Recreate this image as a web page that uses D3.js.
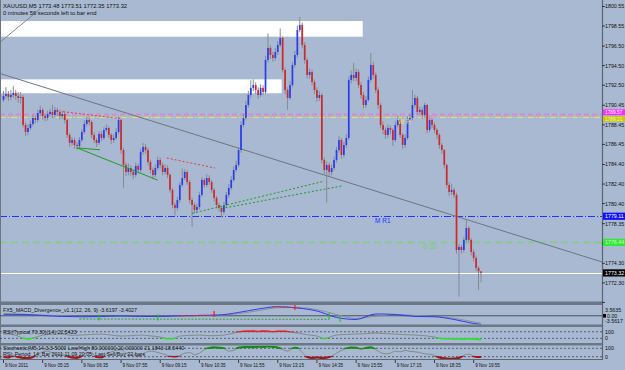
<!DOCTYPE html>
<html><head><meta charset="utf-8">
<script src="https://cdn.jsdelivr.net/npm/d3@7"></script>
<style>body{margin:0;background:#a9b9d1;}svg{display:block;}text{font-family:"Liberation Sans",Arial,sans-serif;}</style>
</head><body><svg id="c" width="625" height="370"></svg>
<script>
// ---------- DATA ----------
const symbolHeader = "XAUUSD,M5  1773.48 1773.51 1772.35 1773.32";
const timerText = "0 minutes 56 seconds left to bar end";
const open = [
1791.00,1791.40,1791.60,1791.30,1791.50,1791.71,1791.40,1791.20,1791.30,1788.44,
1787.72,1788.13,1788.54,1789.15,1788.95,1789.66,1789.97,1789.36,1789.15,1789.56,
1789.77,1789.46,1789.97,1789.77,1789.36,1789.56,1788.95,1787.42,1786.60,1786.90,
1786.39,1786.29,1786.90,1787.72,1788.54,1788.95,1788.74,1787.42,1786.90,1786.60,
1787.52,1787.11,1787.93,1788.13,1787.42,1786.90,1787.11,1787.72,1788.95,1785.88,
1784.35,1783.63,1784.04,1783.63,1783.33,1784.25,1783.84,1785.68,1786.19,1785.88,
1784.66,1783.84,1783.33,1784.04,1784.86,1784.35,1783.63,1784.04,1783.33,1781.80,
1780.26,1779.96,1780.77,1782.31,1783.02,1783.63,1782.61,1780.77,1780.26,1779.75,
1780.06,1781.29,1782.82,1782.31,1783.02,1782.61,1781.80,1780.98,1780.26,1779.96,
1779.55,1780.26,1781.29,1782.00,1782.82,1783.84,1784.35,1785.88,1788.44,1789.15,
1790.48,1791.50,1792.22,1792.52,1792.01,1791.50,1792.22,1791.81,1795.08,1796.31,
1795.59,1795.28,1795.90,1796.61,1797.33,1794.06,1792.01,1791.20,1792.52,1794.57,
1795.59,1798.14,1798.66,1796.61,1795.08,1793.55,1793.85,1792.83,1792.01,1791.20,
1791.50,1784.86,1783.84,1784.35,1783.63,1784.04,1784.86,1785.88,1786.90,1785.37,
1786.39,1787.11,1793.04,1793.55,1793.24,1793.85,1792.52,1791.50,1790.48,1790.99,
1793.04,1794.57,1793.55,1792.01,1790.48,1788.44,1787.93,1787.42,1788.13,1787.93,
1786.90,1788.44,1788.95,1787.42,1786.39,1787.11,1788.95,1789.15,1790.48,1791.20,
1789.77,1789.97,1789.46,1790.48,1787.93,1788.95,1788.44,1787.93,1787.42,1786.39,
1785.88,1784.35,1782.31,1781.59,1781.80,1781.29,1775.66,1775.97,1775.66,1776.69,
1777.91,1776.69,1775.46,1774.85,1773.83,1773.48];
const high = [
1791.9,1792.3,1791.9,1792.0,1792.4,1792.0,1791.8,1791.8,1791.5,1788.7,
1788.5,1788.9,1789.5,1789.4,1790.0,1790.4,1790.2,1789.6,1789.9,1790.1,
1790.5,1790.3,1790.2,1790.0,1789.9,1789.8,1789.1,1787.6,1787.2,1787.1,
1786.7,1787.2,1788.0,1788.9,1789.3,1789.3,1788.9,1787.7,1787.1,1787.8,
1787.8,1788.2,1788.5,1788.3,1787.6,1787.5,1788.1,1789.3,1789.1,1786.1,
1784.6,1784.5,1784.3,1783.9,1784.6,1784.5,1786.0,1786.6,1786.5,1786.1,
1784.9,1784.1,1784.4,1785.2,1785.1,1784.6,1784.4,1784.3,1783.5,1782.0,
1780.5,1781.1,1782.6,1784.0,1783.9,1783.8,1782.8,1781.0,1780.5,1780.4,
1781.6,1783.1,1783.0,1783.4,1783.3,1782.8,1782.0,1781.2,1780.5,1780.2,
1780.6,1781.6,1782.4,1783.2,1784.2,1784.8,1786.2,1788.8,1789.6,1790.9,
1791.9,1793.0,1793.1,1792.8,1792.3,1792.6,1792.5,1795.5,1797.8,1796.6,
1795.9,1796.3,1797.0,1798.3,1797.5,1794.3,1792.3,1792.9,1794.9,1796.0,
1798.6,1799.5,1798.9,1796.9,1795.3,1794.2,1794.1,1793.1,1792.3,1791.9,
1791.7,1785.1,1784.7,1784.6,1784.4,1785.2,1786.2,1787.3,1787.1,1786.7,
1787.5,1793.4,1794.0,1794.8,1794.2,1794.1,1792.8,1791.8,1791.4,1793.4,
1795.8,1794.9,1793.8,1792.3,1790.7,1788.8,1788.2,1788.5,1788.4,1788.1,
1788.8,1789.4,1789.1,1787.6,1787.5,1789.3,1789.6,1792.0,1791.5,1791.4,
1790.3,1790.2,1790.7,1790.6,1789.3,1789.2,1788.7,1788.1,1787.6,1786.6,
1786.0,1784.5,1782.6,1782.4,1782.0,1781.5,1776.3,1776.2,1777.0,1778.7,
1778.1,1776.9,1775.7,1775.1,1774.0,1773.51];
const low = [
1790.8,1791.1,1790.9,1791.0,1791.2,1791.0,1790.7,1790.6,1788.2,1787.3,
1787.4,1787.9,1788.3,1788.6,1788.7,1789.4,1789.0,1788.8,1788.9,1789.3,
1789.1,1789.2,1789.4,1789.0,1789.1,1788.6,1787.1,1786.2,1786.3,1786.0,
1785.9,1786.0,1786.7,1787.5,1788.3,1788.4,1787.1,1786.6,1786.2,1786.4,
1786.8,1786.9,1787.7,1787.1,1786.5,1786.6,1786.9,1787.5,1785.5,1782.0,
1783.2,1783.3,1783.2,1782.9,1783.1,1783.5,1783.6,1785.4,1785.5,1784.3,
1783.5,1782.9,1783.1,1783.8,1784.0,1783.3,1783.4,1783.0,1781.5,1779.9,
1779.2,1779.7,1780.5,1782.1,1782.8,1782.3,1780.4,1778.0,1779.4,1779.5,
1779.8,1781.1,1782.0,1782.1,1782.3,1781.5,1780.6,1779.9,1779.6,1779.0,
1779.3,1780.0,1781.0,1781.8,1782.6,1783.6,1784.1,1785.6,1788.2,1788.9,
1790.2,1791.2,1791.9,1791.6,1791.1,1791.3,1791.5,1791.6,1794.8,1795.2,
1794.9,1795.0,1795.6,1796.4,1793.8,1791.6,1790.0,1791.0,1792.3,1794.3,
1795.3,1797.9,1796.3,1794.7,1793.2,1793.2,1792.5,1791.6,1790.8,1790.9,
1784.5,1783.4,1780.5,1783.2,1783.3,1783.8,1784.6,1785.6,1785.0,1785.1,
1786.1,1786.9,1792.7,1792.9,1792.9,1792.2,1791.1,1790.1,1790.2,1790.8,
1792.8,1793.2,1791.7,1790.1,1788.1,1787.5,1787.0,1787.1,1787.5,1786.3,
1786.7,1788.2,1787.1,1786.0,1786.1,1786.9,1788.7,1788.9,1790.2,1789.5,
1789.5,1789.1,1789.2,1787.6,1787.7,1788.1,1787.6,1787.0,1786.0,1785.5,
1784.0,1782.0,1781.2,1781.3,1781.0,1775.3,1770.9,1775.3,1775.4,1776.4,
1776.4,1775.1,1774.5,1773.5,1771.6,1772.35];
const close = [
1791.40,1791.60,1791.30,1791.50,1791.71,1791.40,1791.20,1791.30,1788.44,1787.72,
1788.13,1788.54,1789.15,1788.95,1789.66,1789.97,1789.36,1789.15,1789.56,1789.77,
1789.46,1789.97,1789.77,1789.36,1789.56,1788.95,1787.42,1786.60,1786.90,1786.39,
1786.29,1786.90,1787.72,1788.54,1788.95,1788.74,1787.42,1786.90,1786.60,1787.52,
1787.11,1787.93,1788.13,1787.42,1786.90,1787.11,1787.72,1788.95,1785.88,1784.35,
1783.63,1784.04,1783.63,1783.33,1784.25,1783.84,1785.68,1786.19,1785.88,1784.66,
1783.84,1783.33,1784.04,1784.86,1784.35,1783.63,1784.04,1783.33,1781.80,1780.26,
1779.96,1780.77,1782.31,1783.02,1783.63,1782.61,1780.77,1780.26,1779.75,1780.06,
1781.29,1782.82,1782.31,1783.02,1782.61,1781.80,1780.98,1780.26,1779.96,1779.55,
1780.26,1781.29,1782.00,1782.82,1783.84,1784.35,1785.88,1788.44,1789.15,1790.48,
1791.50,1792.22,1792.52,1792.01,1791.50,1792.22,1791.81,1795.08,1796.31,1795.59,
1795.28,1795.90,1796.61,1797.33,1794.06,1792.01,1791.20,1792.52,1794.57,1795.59,
1798.14,1798.66,1796.61,1795.08,1793.55,1793.85,1792.83,1792.01,1791.20,1791.50,
1784.86,1783.84,1784.35,1783.63,1784.04,1784.86,1785.88,1786.90,1785.37,1786.39,
1787.11,1793.04,1793.55,1793.24,1793.85,1792.52,1791.50,1790.48,1790.99,1793.04,
1794.57,1793.55,1792.01,1790.48,1788.44,1787.93,1787.42,1788.13,1787.93,1786.90,
1788.44,1788.95,1787.42,1786.39,1787.11,1788.95,1789.15,1790.48,1791.20,1789.77,
1789.97,1789.46,1790.48,1787.93,1788.95,1788.44,1787.93,1787.42,1786.39,1785.88,
1784.35,1782.31,1781.59,1781.80,1781.29,1775.66,1775.97,1775.66,1776.69,1777.91,
1776.69,1775.46,1774.85,1773.83,1773.48,1773.32];

const priceTicks = [1800.55,1798.55,1796.50,1794.50,1792.50,1790.45,1788.45,1786.45,1784.40,1782.40,1780.40,1778.35,1776.35,1774.30,1772.30,1770.30];
const timeTickBars = [0,16,32,48,64,80,96,112,128,144,160,176,192];
const timeLabels = ["9 Nov 2011","9 Nov 05:15","9 Nov 06:35","9 Nov 07:55","9 Nov 09:15","9 Nov 10:35","9 Nov 11:55","9 Nov 13:15","9 Nov 14:35","9 Nov 15:55","9 Nov 17:15","9 Nov 18:35","9 Nov 19:55"];

// horizontal levels: price, label
const levelPrices = [1789.57, 1789.21, 1779.11, 1776.44, 1773.32];
const levelLabels = ["1789.57","1789.21","1779.11","1776.44","1773.32"];
// zones [bar start, bar end, price top, price bottom]
const zones = [[-3, 146.7, 1799.06, 1797.46], [-3, 113.6, 1793.10, 1791.68]];
// trend lines [bar1, price1, bar2, price2]
const trendMain = [0, 1793.59, 195, 1778.31];
const trendTop = [-1.4, 1796.9, 15, 1800.3];
const divGreenSolid = [[30, 1786.1, 63, 1782.8], [30, 1786.1, 39.4, 1785.9]];
const divGreenDotted = [[77, 1779.4, 131, 1782.7], [89, 1779.9, 138, 1782.2]];
const divRedDotted = [[24.3, 1789.8, 47.6, 1789.1], [66.7, 1785.06, 86.4, 1784.04]];

// MACD (bar, value)
const macdBars = [0,8,16,24,32,40,48,56,64,72,80,88,96,104,112,120,128,136,144,152,160,168,176,184,192,195];
const macdMain = [1.0,0.85,0.2,-0.45,-0.65,-0.45,-0.13,-0.45,-0.45,0,0.2,0.52,2.15,4.4,5.9,5.05,3.1,-1.1,-2.4,1.17,0.85,-0.45,-0.65,-2.4,-5.0,-5.65];
const macdSignal = [1.2,1.0,0.5,-0.1,-0.5,-0.55,-0.3,-0.35,-0.45,-0.2,0.05,0.35,1.4,3.3,5.2,5.4,4.0,0.8,-1.8,-0.3,0.9,0.2,-0.5,-1.6,-4.0,-4.8];
const macdRedRanges = [[71, 87], [109, 121]];
const macdGreenArrows = [39, 63, 133, 137.5];
const macdRedArrows = [86, 119];
const macdGreenLevel = [[31, -2.1], [133, -2.3]];

// RSI (bar, value)
const rsiBars = [0,4,8,10,12,16,20,24,28,32,36,40,44,48,52,56,60,64,67,69,72,76,80,84,88,92,96,98,102,104,106,108,110,112,115,117,120,124,128,131,134,136,140,144,148,152,156,160,164,168,172,176,179,182,185,188,190,192,195];
const rsiVals = [56,52,32,27,31,50,55,56,48,50,54,56,50,44,46,50,45,38,28,28,44,48,50,46,47,55,68,72,73,71,73,72,69,72,72,68,62,52,44,29,42,50,54,56,58,62,58,56,52,50,46,38,29,28,27,26,28,26,23];

// Stochastic (bar, value)
const stoBars = [0,2,4,6,8,10,12,14,16,18,20,22,24,26,28,30,32,34,36,38,40,42,44,46,48,50,52,56,58,60,62,64,66,68,70,72,74,76,78,80,82,84,86,88,90,92,94,96,98,100,102,104,106,108,110,112,114,116,118,119,120,122,124,126,128,130,132,134,136,138,140,142,144,146,148,150,152,154,156,158,160,162,164,166,168,170,172,174,176,178,180,182,184,186,188,190,192,194,195];
const stoVals = [18,15,30,18,12,10,18,40,55,60,45,35,40,25,15,12,25,50,45,18,15,40,55,65,70,45,35,30,50,60,55,45,35,25,22,30,45,50,35,45,70,82,86,84,78,60,65,85,88,90,88,92,90,93,90,86,70,60,78,84,82,50,18,12,15,12,14,25,45,65,78,85,84,70,82,86,70,50,40,45,60,55,65,58,55,50,40,38,30,15,8,5,6,12,30,38,25,18,18];

const macdTitle = "FX5_MACD_Divergence_v1.1(12, 26, 9) -3.6197 -3.4027";
const rsiTitle = "RSI(Typical,70,30)(14) 22.5423";
const stoTitle = "Stochastic(M5,14,3,3-5000 Low/High 80.000000 20.000000 21.1843 18.5440";

// ---------- DRAW ----------
const svg = d3.select("#c");
const BG = "#a9b9d1";
const PR = 602;
svg.append("rect").attr("width",625).attr("height",370).attr("fill",BG);

const x = d3.scaleLinear().domain([0,195]).range([3.5,481]);
const y = d3.scaleLinear().domain([1770.45,1801.21]).range([301,0]);
const yM = d3.scaleLinear().domain([-6,7]).range([325,305]);
const yR = d3.scaleLinear().domain([0,100]).range([343.3,326.8]);
const yS = d3.scaleLinear().domain([0,100]).range([359.5,345.5]);

const defs = svg.append("defs");
defs.append("clipPath").attr("id","cm").append("rect").attr("x",0).attr("y",0).attr("width",PR).attr("height",301.5);
defs.append("clipPath").attr("id","cmacd").append("rect").attr("x",0).attr("y",305).attr("width",PR).attr("height",19.5);
defs.append("clipPath").attr("id","crsi").append("rect").attr("x",0).attr("y",327).attr("width",PR).attr("height",16);
defs.append("clipPath").attr("id","csto").append("rect").attr("x",0).attr("y",345.5).attr("width",PR).attr("height",13.5);
defs.append("clipPath").attr("id","crsiHi").append("rect").attr("x",0).attr("y",327).attr("width",PR).attr("height",yR(70)-327+0.6);
defs.append("clipPath").attr("id","crsiLo").append("rect").attr("x",0).attr("y",yR(30)-0.6).attr("width",PR).attr("height",343-yR(30)+0.6);
defs.append("clipPath").attr("id","cstoHi").append("rect").attr("x",0).attr("y",345.5).attr("width",PR).attr("height",yS(80)-345.5+0.6);
defs.append("clipPath").attr("id","cstoLo").append("rect").attr("x",0).attr("y",yS(20)-0.6).attr("width",PR).attr("height",359-yS(20)+0.6);

const main = svg.append("g").attr("clip-path","url(#cm)");

// zones
main.selectAll("rect.zone").data(zones).join("rect")
  .attr("x",d=>x(d[0])).attr("width",d=>x(d[1])-x(d[0]))
  .attr("y",d=>y(d[2])).attr("height",d=>y(d[3])-y(d[2]))
  .attr("fill","#ffffff");

// level lines
const levelStyle = [
  {c:"#d88ad8",w:2,dash:"5,3"},
  {c:"#e4e44c",w:1,dash:"6,2,1,2"},
  {c:"#2233ff",w:1,dash:"7,2,1,2"},
  {c:"#7fd07f",w:1.5,dash:"7,4"},
  {c:"#ffffff",w:1,dash:null}
];
main.selectAll("line.lvl").data(levelPrices).join("line")
  .attr("x1",0).attr("x2",PR).attr("y1",d=>Math.round(y(d))+0.5).attr("y2",d=>Math.round(y(d))+0.5)
  .attr("stroke",(d,i)=>levelStyle[i].c).attr("stroke-width",(d,i)=>levelStyle[i].w)
  .attr("stroke-dasharray",(d,i)=>levelStyle[i].dash);

// trend lines (extended)
function extLine(t){
  const s=(t[3]-t[1])/(t[2]-t[0]);
  const b0=x.invert(0), b1=x.invert(PR);
  return [b0,t[1]+s*(b0-t[0]),b1,t[1]+s*(b1-t[0])];
}
const tm = extLine(trendMain);
main.append("line").attr("x1",x(tm[0])).attr("y1",y(tm[1])).attr("x2",x(tm[2])).attr("y2",y(tm[3]))
  .attr("stroke","#6f7580").attr("stroke-width",1);
main.append("line").attr("x1",x(trendTop[0])).attr("y1",y(trendTop[1])).attr("x2",x(trendTop[2])).attr("y2",y(trendTop[3]))
  .attr("stroke","#7c828c").attr("stroke-width",1);

// candles
const idx = d3.range(close.length);
main.selectAll("line.wick").data(idx).join("line")
  .attr("x1",i=>x(i)).attr("x2",i=>x(i)).attr("y1",i=>y(high[i])).attr("y2",i=>y(low[i]))
  .attr("stroke","#858a92").attr("stroke-width",1);
main.selectAll("rect.body").data(idx).join("rect")
  .attr("x",i=>x(i)-0.85).attr("width",1.7)
  .attr("y",i=>y(Math.max(open[i],close[i])))
  .attr("height",i=>Math.max(1,Math.abs(y(open[i])-y(close[i]))))
  .attr("fill",i=>close[i]>=open[i]?"#2a3cf0":"#d02828");

// divergence lines
main.selectAll("line.dg").data(divGreenSolid).join("line")
  .attr("x1",d=>x(d[0])).attr("y1",d=>y(d[1])).attr("x2",d=>x(d[2])).attr("y2",d=>y(d[3]))
  .attr("stroke","#1f9a2a").attr("stroke-width",1);
main.selectAll("line.dgd").data(divGreenDotted).join("line")
  .attr("x1",d=>x(d[0])).attr("y1",d=>y(d[1])).attr("x2",d=>x(d[2])).attr("y2",d=>y(d[3]))
  .attr("stroke","#1f9a2a").attr("stroke-width",1).attr("stroke-dasharray","2,2");
main.selectAll("line.drd").data(divRedDotted).join("line")
  .attr("x1",d=>x(d[0])).attr("y1",d=>y(d[1])).attr("x2",d=>x(d[2])).attr("y2",d=>y(d[3]))
  .attr("stroke","#e04040").attr("stroke-width",1).attr("stroke-dasharray","2,2");

// level texts
function T(g,xx,yy,s,col,size,anchor){
  return g.append("text").attr("x",xx).attr("y",yy).text(s).attr("fill",col)
    .attr("font-size",size).attr("text-anchor",anchor||"start");
}
T(main,375,223,"M R1","#2233ff",6.5);
T(main,423,249,"D S1","#6fd06f",6.5);
T(main,398,124,"W H","#e8e870",6.5);
T(main,428,120,"PP","#e080e0",6.5);

// header
T(svg,3,8,symbolHeader,"#101010",5.8);
T(svg,3,15,timerText,"#101010",5.8);

// panel separators
[[301.5,3.5],[324.5,2.5],[343,2.5]].forEach(s=>{
  svg.append("rect").attr("x",0).attr("y",s[0]).attr("width",PR+1).attr("height",s[1]).attr("fill","#6c7886");
});
svg.append("line").attr("x1",0).attr("x2",PR).attr("y1",359.5).attr("y2",359.5).attr("stroke","#5d6670").attr("stroke-width",1);
svg.append("line").attr("x1",PR+0.5).attr("x2",PR+0.5).attr("y1",0).attr("y2",360).attr("stroke","#5d6670").attr("stroke-width",1.2);
svg.append("line").attr("x1",0.5).attr("x2",0.5).attr("y1",0).attr("y2",360).attr("stroke","#6d7680").attr("stroke-width",1);

// MACD panel
const gm = svg.append("g").attr("clip-path","url(#cmacd)");
gm.append("line").attr("x1",0).attr("x2",PR).attr("y1",yM(0)).attr("y2",yM(0)).attr("stroke","#303840").attr("stroke-width",0.8);
gm.append("line").attr("x1",x(macdGreenLevel[0][0])).attr("y1",yM(macdGreenLevel[0][1]))
  .attr("x2",x(macdGreenLevel[1][0])).attr("y2",yM(macdGreenLevel[1][1]))
  .attr("stroke","#2aa02a").attr("stroke-width",1).attr("stroke-dasharray","2,1.5");
const lineM = d3.line().x(d=>x(d[0])).y(d=>yM(d[1])).curve(d3.curveMonotoneX);
gm.append("path").attr("d",lineM(macdBars.map((b,i)=>[b,macdSignal[i]]))).attr("fill","none").attr("stroke","#8a9098").attr("stroke-width",1);
const macdPts = macdBars.map((b,i)=>[b,macdMain[i]]);
gm.append("path").attr("d",lineM(macdPts)).attr("fill","none").attr("stroke","#2a3cf0").attr("stroke-width",1);
macdRedRanges.forEach((r,k)=>{
  defs.append("clipPath").attr("id","cmr"+k).append("rect").attr("x",x(r[0])).attr("y",305).attr("width",x(r[1])-x(r[0])).attr("height",20);
  gm.append("path").attr("d",lineM(macdPts)).attr("fill","none").attr("stroke","#e03030").attr("stroke-width",1.2)
    .attr("stroke-dasharray","2,1.5").attr("clip-path","url(#cmr"+k+")");
});
const interpM = b => {
  let i=0; while(i<macdBars.length-2 && macdBars[i+1]<b) i++;
  const t=(b-macdBars[i])/(macdBars[i+1]-macdBars[i]); return macdMain[i]+(macdMain[i+1]-macdMain[i])*t; };
gm.selectAll("line.ga").data(macdGreenArrows).join("line")
  .attr("x1",d=>x(d)).attr("x2",d=>x(d)).attr("y1",d=>yM(interpM(d))-2).attr("y2",d=>yM(interpM(d))+4)
  .attr("stroke","#20c020").attr("stroke-width",1.2);
gm.selectAll("line.ra").data(macdRedArrows).join("line")
  .attr("x1",d=>x(d)).attr("x2",d=>x(d)).attr("y1",d=>yM(interpM(d))-4).attr("y2",d=>yM(interpM(d))+2)
  .attr("stroke","#e02020").attr("stroke-width",1.2);
T(svg,3,312,macdTitle,"#101010",5.3);

// RSI panel
const gr = svg.append("g").attr("clip-path","url(#crsi)");
[70,30].forEach(v=>gr.append("line").attr("x1",0).attr("x2",PR).attr("y1",yR(v)).attr("y2",yR(v))
  .attr("stroke","#303840").attr("stroke-width",0.7).attr("stroke-dasharray","2,2"));
const lineR = d3.line().x(d=>x(d[0])).y(d=>yR(d[1])).curve(d3.curveMonotoneX);
const rsiPts = rsiBars.map((b,i)=>[b,rsiVals[i]]);
gr.append("path").attr("d",lineR(rsiPts)).attr("fill","none").attr("stroke","#7d848c").attr("stroke-width",0.9);
gr.append("path").attr("d",lineR(rsiPts)).attr("fill","none").attr("stroke","#e82020").attr("stroke-width",1.8).attr("clip-path","url(#crsiHi)");
gr.append("path").attr("d",lineR(rsiPts)).attr("fill","none").attr("stroke","#30e030").attr("stroke-width",1.8).attr("clip-path","url(#crsiLo)");
T(svg,3,334,rsiTitle,"#101010",5.3);

// Stochastic panel
const gs = svg.append("g").attr("clip-path","url(#csto)");
[80,20].forEach(v=>gs.append("line").attr("x1",0).attr("x2",PR).attr("y1",yS(v)).attr("y2",yS(v))
  .attr("stroke","#303840").attr("stroke-width",0.7).attr("stroke-dasharray","2,2"));
const lineS = d3.line().x(d=>x(d[0])).y(d=>yS(d[1])).curve(d3.curveMonotoneX);
const stoPts = stoBars.map((b,i)=>[b,stoVals[i]]);
gs.append("path").attr("d",lineS(stoPts)).attr("fill","none").attr("stroke","#7d848c").attr("stroke-width",0.9);
gs.append("path").attr("d",lineS(stoPts)).attr("fill","none").attr("stroke","#188a18").attr("stroke-width",2.2).attr("clip-path","url(#cstoHi)");
gs.append("path").attr("d",lineS(stoPts)).attr("fill","none").attr("stroke","#a01818").attr("stroke-width",2.2).attr("clip-path","url(#cstoLo)");
T(svg,3,350,stoTitle,"#101010",5.3);
T(svg,3,356,"RSI: Period: 14; Bar 2011.11.09 20:05; Last Sell/Buy 22 bars","#101010",5.3);

// right price axis
const ra = svg.append("g");
ra.selectAll("line.pt").data(priceTicks).join("line")
  .attr("x1",PR).attr("x2",PR+3).attr("y1",d=>y(d)).attr("y2",d=>y(d)).attr("stroke","#202020").attr("stroke-width",0.8);
ra.selectAll("text.pt").data(priceTicks.filter(d=>y(d)<302)).join("text")
  .attr("x",605).attr("y",d=>y(d)+2).text(d=>d.toFixed(2)).attr("font-size",5.3).attr("fill","#101010");

const boxCol = ["#ff2cff","#c8c818","#1010ff","#34e834","#000000"];
const boxTxt = ["#ffffff","#f4f4a0","#ffffff","#c8ffc8","#ffffff"];
const boxShift = [-1.6, 1.4, 0, 0, 0];
levelPrices.forEach((p,i)=>{
  const yy=y(p)+boxShift[i];
  const h = (i<2)?5.8:7.2;
  ra.append("rect").attr("x",603).attr("y",yy-h/2).attr("width",22).attr("height",h).attr("fill",boxCol[i]);
  T(ra,605,yy+(i<2?1.7:2),levelLabels[i],boxTxt[i],i<2?4.8:5.3);
});

// indicator axis labels
T(svg,605,311.5,"3.5635","#101010",5.3);
svg.append("rect").attr("x",603).attr("y",yM(0)-1.8).attr("width",3).attr("height",3.6).attr("fill","#000");
T(svg,607,yM(0)+2,"0.00","#101010",5.3);
T(svg,605,323,"-3.5617","#101010",5.3);
T(svg,605,yR(70)+2,"100","#101010",5.3);
T(svg,605,yR(30)+2,"0","#101010",5.3);
T(svg,605,yS(80)+2,"100","#101010",5.3);
T(svg,605,yS(20)+2,"0","#101010",5.3);

// time axis
const ta = svg.append("g");
ta.selectAll("line.tt").data(timeTickBars).join("line")
  .attr("x1",d=>x(d)).attr("x2",d=>x(d)).attr("y1",360).attr("y2",363).attr("stroke","#202020").attr("stroke-width",0.8);
ta.selectAll("text.tt").data(timeTickBars).join("text")
  .attr("transform",d=>`translate(${x(d)+1.5},367) scale(0.82,1)`)
  .text((d,i)=>timeLabels[i]).attr("font-size",5.6).attr("fill","#101010");
</script></body></html>
